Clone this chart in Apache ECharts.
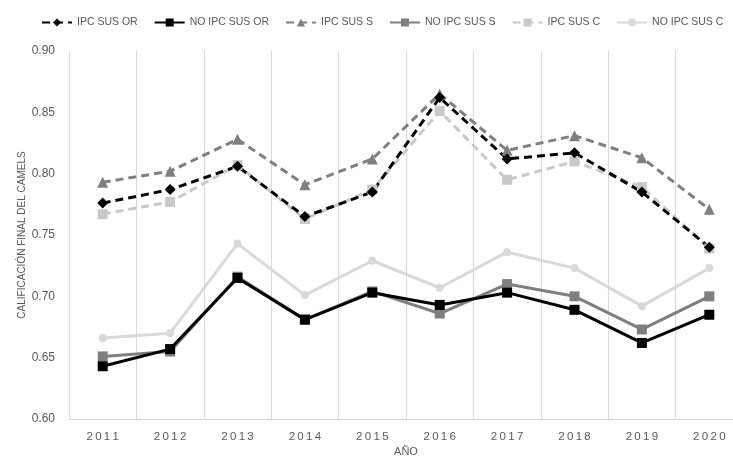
<!DOCTYPE html>
<html>
<head>
<meta charset="utf-8">
<script src="https://cdn.jsdelivr.net/npm/echarts@6/dist/echarts.min.js"></script>
<style>
  html, body { margin: 0; padding: 0; background: #fff; }
  #chart { width: 733px; height: 459px; }
</style>
</head>
<body>
<div id="chart"></div>
<script>
// Años evaluados
const years = ['2011', '2012', '2013', '2014', '2015', '2016', '2017', '2018', '2019', '2020'];

// Calificación final CAMELS por grupo
const ipcSusOr   = [0.776, 0.787, 0.806, 0.765, 0.785, 0.862, 0.812, 0.817, 0.785, 0.740];
const noIpcSusOr = [0.643, 0.657, 0.715, 0.681, 0.703, 0.693, 0.703, 0.689, 0.662, 0.685];
const ipcSusS    = [0.793, 0.802, 0.828, 0.791, 0.812, 0.865, 0.819, 0.831, 0.813, 0.771];
const noIpcSusS  = [0.651, 0.655, 0.716, 0.681, 0.704, 0.686, 0.710, 0.700, 0.673, 0.700];
const ipcSusC    = [0.767, 0.777, 0.807, 0.763, 0.787, 0.851, 0.795, 0.810, 0.789, 0.739];
const noIpcSusC  = [0.666, 0.670, 0.743, 0.701, 0.729, 0.707, 0.736, 0.723, 0.692, 0.723];

const legendNames = ['IPC SUS OR', 'NO IPC SUS OR', 'IPC SUS S', 'NO IPC SUS S', 'IPC SUS C', 'NO IPC SUS C'];

const chart = echarts.init(document.getElementById('chart'));

function line(name, data, color, dashed, symbol, size) {
  return {
    name: name,
    type: 'line',
    data: data,
    symbol: symbol,
    symbolSize: size,
    showSymbol: true,
    lineStyle: { color: color, width: 3, type: dashed ? [8, 5] : 'solid' },
    itemStyle: { color: color },
    emphasis: { disabled: true }
  };
}

chart.setOption({
  animation: false,
  textStyle: { fontFamily: 'Liberation Sans, Arial, sans-serif' },
  legend: {
    top: 12,
    left: 36,
    itemWidth: 30,
    itemHeight: 10,
    itemGap: 16,
    textStyle: { color: '#595959', fontSize: 10.5 },
    data: legendNames
  },
  grid: { left: 69, top: 51, width: 674, height: 368, outerBoundsMode: 'none', containLabel: false },
  xAxis: {
    type: 'category',
    data: years,
    boundaryGap: true,
    name: 'AÑO',
    nameLocation: 'middle',
    nameGap: 27,
    nameMoveOverlap: false,
    nameTextStyle: { color: '#595959', fontSize: 11 },
    axisLine: { show: true, lineStyle: { color: '#d9d9d9', width: 1 } },
    axisTick: { show: false },
    axisLabel: {
      color: '#595959',
      fontSize: 11.5,
      margin: 12,
      formatter: function (v) { return v.split('').join('\u2009'); }
    },
    splitLine: { show: true, lineStyle: { color: '#d9d9d9', width: 1 } }
  },
  yAxis: {
    type: 'value',
    min: 0.6,
    max: 0.9,
    interval: 0.05,
    name: 'CALIFICACIÓN FINAL DEL CAMELS',
    nameLocation: 'middle',
    nameGap: 42,
    nameMoveOverlap: false,
    nameTextStyle: { color: '#595959', fontSize: 10 },
    axisLine: { show: false },
    axisTick: { show: false },
    splitLine: { show: false },
    axisLabel: {
      color: '#595959',
      fontSize: 12,
      margin: 14,
      formatter: function (v) { return v.toFixed(2); }
    }
  },
  series: [
    line('NO IPC SUS C', noIpcSusC, '#d9d9d9', false, 'circle', 8),
    line('IPC SUS C', ipcSusC, '#c9c9c9', true, 'rect', 10),
    line('NO IPC SUS S', noIpcSusS, '#7f7f7f', false, 'rect', 10),
    line('IPC SUS S', ipcSusS, '#7f7f7f', true, 'triangle', 11),
    line('NO IPC SUS OR', noIpcSusOr, '#000000', false, 'rect', 10),
    line('IPC SUS OR', ipcSusOr, '#000000', true, 'diamond', 11)
  ]
});
</script>
</body>
</html>
